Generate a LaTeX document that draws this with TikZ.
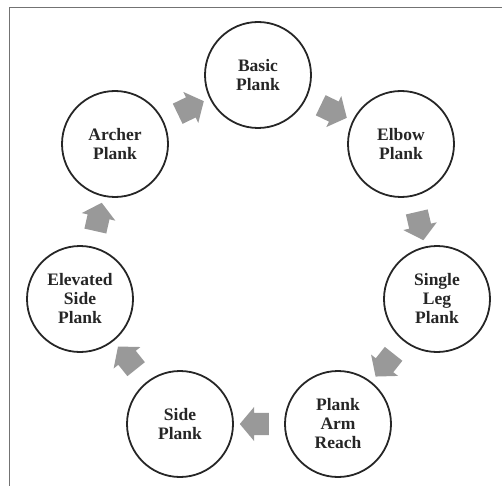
\documentclass[tikz,border=0pt]{standalone}
\usepackage{fontspec}
\setmainfont{Liberation Serif}
\usetikzlibrary{shapes.arrows}
\begin{document}
\begin{tikzpicture}[x=1pt,y=-1pt,
  stage/.style={circle, draw=black!85, line width=1.8pt, minimum size=106pt, inner sep=0pt,
    align=center, font=\fontsize{17.5}{19}\selectfont\bfseries, text=black!85},
  flow/.style={single arrow, fill=black!40, draw=none, minimum height=29pt,
    single arrow head extend=6pt, single arrow tip angle=100, inner sep=0pt,
    sloped, allow upside down, midway}]
\useasboundingbox (0,0) rectangle (502,486);
\draw[black!55, line width=1.5pt] (502,7.5) -- (9.5,7.5) -- (9.5,486);

\node[stage] (basic)  at (258,75)  {Basic\\Plank};
\node[stage] (elbow)  at (401,144) {Elbow\\Plank};
\node[stage] (single) at (437,299) {Single\\Leg\\Plank};
\node[stage] (reach)  at (338,424) {Plank\\Arm\\Reach};
\node[stage] (side)   at (180,424) {Side\\Plank};
\node[stage] (elev)   at (80,299)  {Elevated\\Side\\Plank};
\node[stage] (archer) at (115,144) {Archer\\Plank};

\path (basic)  -- (elbow)  node[flow] {\rule[-11pt]{0pt}{22pt}};
\path (elbow)  -- (single) node[flow] {\rule[-11pt]{0pt}{22pt}};
\path (single) -- (reach)  node[flow] {\rule[-11pt]{0pt}{22pt}};
\path (reach)  -- (side)   node[flow] {\rule[-11pt]{0pt}{22pt}};
\path (side)   -- (elev)   node[flow] {\rule[-11pt]{0pt}{22pt}};
\path (elev)   -- (archer) node[flow] {\rule[-11pt]{0pt}{22pt}};
\path (archer) -- (basic)  node[flow] {\rule[-11pt]{0pt}{22pt}};
\end{tikzpicture}
\end{document}
